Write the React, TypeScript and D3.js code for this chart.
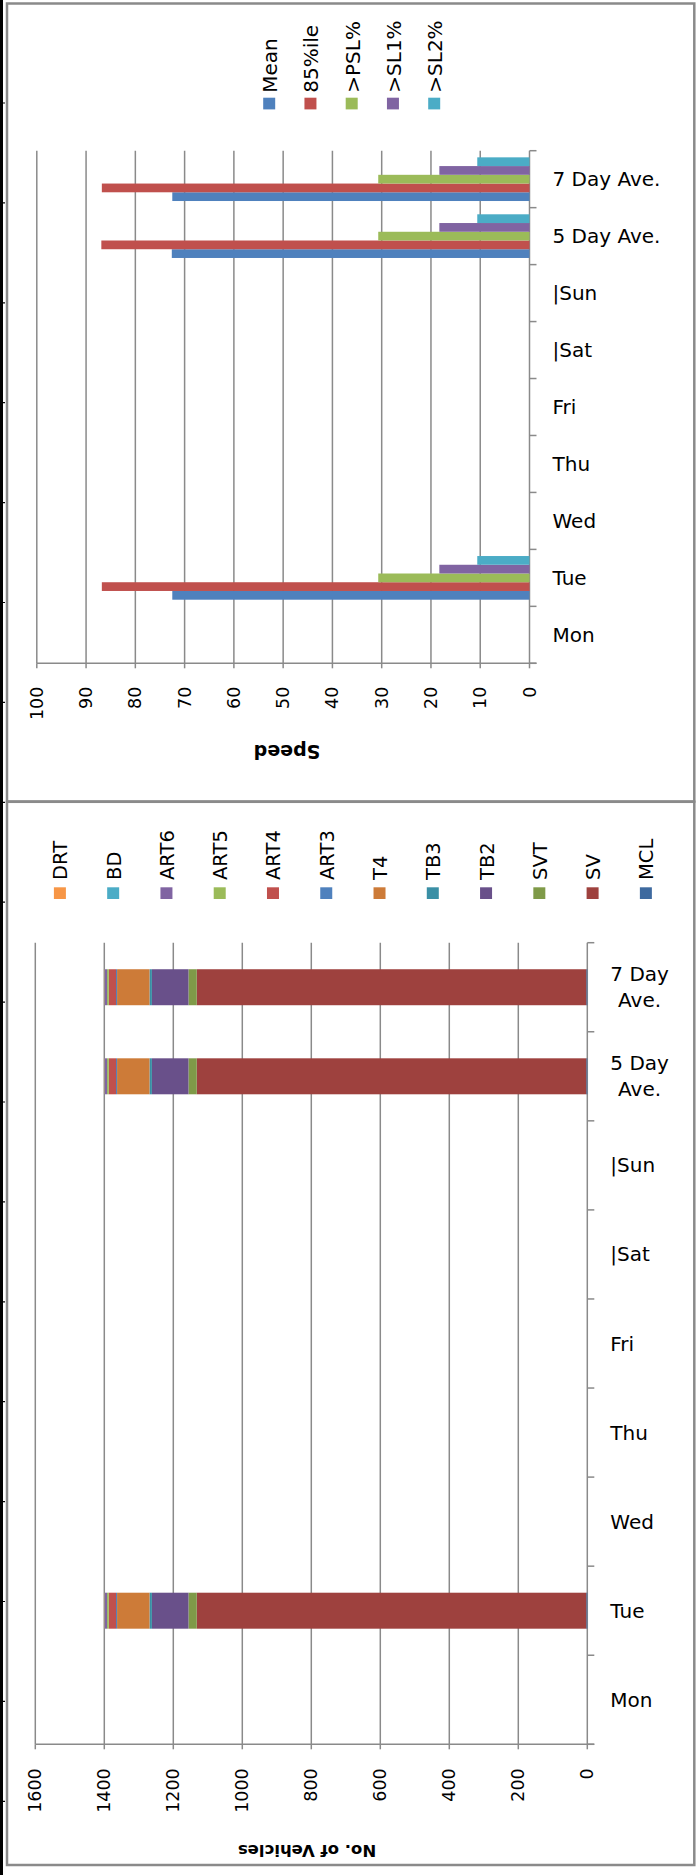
import * as d3 from 'd3'

// categories, bottom to top
const days = ['Mon', 'Tue', 'Wed', 'Thu', 'Fri', '|Sat', '|Sun', '5 Day Ave.', '7 Day Ave.']

// speed chart
const speedSeries = ['Mean', '85%ile', '>PSL%', '>SL1%', '>SL2%']
const speedColors = ['#4F81BD', '#C0504D', '#9BBB59', '#8064A2', '#4BACC6']
const meanSpeed = [null, 72.5, null, null, null, null, null, 72.6, 72.5]
const pct85Speed = [null, 86.8, null, null, null, null, null, 86.9, 86.8]
const overPsl = [null, 30.7, null, null, null, null, null, 30.7, 30.7]
const overSl1 = [null, 18.3, null, null, null, null, null, 18.3, 18.3]
const overSl2 = [null, 10.6, null, null, null, null, null, 10.6, 10.6]
const speedTicks = [0, 10, 20, 30, 40, 50, 60, 70, 80, 90, 100]

// vehicle class chart (stack order)
const vehicleClasses = ['MCL', 'SV', 'SVT', 'TB2', 'TB3', 'T4', 'ART3', 'ART4', 'ART5', 'ART6', 'BD', 'DRT']
const vehicleColors = ['#3E6A9F', '#9E413E', '#7F9A48', '#69508A', '#3A8FA5', '#CD7B38', '#4F81BD', '#C0504D', '#9BBB59', '#8064A2', '#4BACC6', '#F79646']
const mcl = [null, 3, null, null, null, null, null, 3, 3]
const sv = [null, 1129, null, null, null, null, null, 1129, 1129]
const svt = [null, 24, null, null, null, null, null, 24, 24]
const tb2 = [null, 106, null, null, null, null, null, 106, 106]
const tb3 = [null, 7, null, null, null, null, null, 7, 7]
const t4 = [null, 94, null, null, null, null, null, 94, 94]
const art3 = [null, 3, null, null, null, null, null, 3, 3]
const art4 = [null, 21, null, null, null, null, null, 21, 21]
const art5 = [null, 5, null, null, null, null, null, 5, 5]
const art6 = [null, 7, null, null, null, null, null, 7, 7]
const bd = [null, 1, null, null, null, null, null, 1, 1]
const drt = [null, 1, null, null, null, null, null, 1, 1]
const vehicleTicks = [0, 200, 400, 600, 800, 1000, 1200, 1400, 1600]

const FONT = "'DejaVu Sans', sans-serif"
const GRID = '#8a8a8a'

let ctx: CanvasRenderingContext2D | null = null
function textWidth(t: string, size: number) {
  if (!ctx) ctx = document.createElement('canvas').getContext('2d')
  if (!ctx) return t.length * size * 0.6
  ctx.font = `${size}px 'DejaVu Sans'`
  return ctx.measureText(t).width
}

function wrap(t: string, size: number, maxW: number) {
  const words = t.split(' ')
  const lines: string[] = []
  let cur = ''
  words.forEach((w) => {
    const next = cur ? cur + ' ' + w : w
    if (cur && textWidth(next, size) > maxW) {
      lines.push(cur)
      cur = w
    } else cur = next
  })
  if (cur) lines.push(cur)
  return lines
}

interface AxisProps {
  x: d3.ScaleLinear<number, number>
  y: d3.ScaleBand<string>
  ticks: number[]
  top: number
  bottom: number
  tickLabelY: number
  labelMaxW: number
}

function Axes({ x, y, ticks, top, bottom, tickLabelY, labelMaxW }: AxisProps) {
  const x0 = x(0)
  const step = y.step()
  const bounds = d3.range(days.length + 1).map((i) => top + i * step)
  return (
    <g>
      {ticks.filter((t) => t !== 0).map((t) => (
        <line key={'g' + t} x1={x(t)} x2={x(t)} y1={top} y2={bottom} stroke={GRID} strokeWidth={1.5} />
      ))}
      {ticks.map((t) => (
        <line key={'t' + t} x1={x(t)} x2={x(t)} y1={bottom} y2={bottom + 5} stroke={GRID} strokeWidth={1.5} />
      ))}
      <line x1={x(ticks[ticks.length - 1])} x2={x0 + 7} y1={bottom} y2={bottom} stroke={GRID} strokeWidth={1.5} />
      <line x1={x0} x2={x0} y1={top} y2={bottom} stroke={GRID} strokeWidth={1.5} />
      {bounds.map((b, i) => (
        <line key={'b' + i} x1={x0} x2={x0 + 7} y1={b} y2={b} stroke={GRID} strokeWidth={1.5} />
      ))}
      {ticks.map((t) => (
        <text key={'l' + t} transform={`translate(${x(t)},${tickLabelY}) rotate(-90)`} textAnchor="end"
          dominantBaseline="central" fontSize={17.5} fontFamily={FONT} fill="#000">{t}</text>
      ))}
      {days.map((d) => {
        const cy = (y(d) ?? 0) + y.bandwidth() / 2
        const lines = wrap(d, 20, labelMaxW)
        const lx = x0 + 23
        if (lines.length === 1) {
          return (
            <text key={d} x={lx} y={cy} dominantBaseline="central" fontSize={20} fontFamily={FONT} fill="#000">{d}</text>
          )
        }
        const w = d3.max(lines, (l) => textWidth(l, 20)) ?? 0
        return (
          <text key={d} x={lx + w / 2} y={cy} textAnchor="middle" dominantBaseline="central" fontSize={20} fontFamily={FONT} fill="#000">
            {lines.map((l, i) => (
              <tspan key={i} x={lx + w / 2} y={cy + (i - (lines.length - 1) / 2) * 26}>{l}</tspan>
            ))}
          </text>
        )
      })}
    </g>
  )
}

function Legend({ names, colors, cx0, step, swatchTop, textBottom, size }: { names: string[]; colors: string[]; cx0: number; step: number; swatchTop: number; textBottom: number; size: number }) {
  return (
    <g>
      {names.map((n, i) => {
        const cx = cx0 + i * step
        return (
          <g key={n}>
            <rect x={cx - 6} y={swatchTop} width={12} height={11.7} fill={colors[i]} />
            <text transform={`translate(${cx + 1},${textBottom}) rotate(-90)`} dominantBaseline="central"
              fontSize={size} fontFamily={FONT} fill="#000">{n}</text>
          </g>
        )
      })}
    </g>
  )
}

function SpeedChart() {
  const top = 150.7, bottom = 663.3
  const x = d3.scaleLinear().domain([0, 100]).range([529.5, 36.8])
  const y = d3.scaleBand<string>().domain(days).range([bottom, top])
  const inner = d3.scaleBand<string>().domain(speedSeries).range([y.bandwidth(), 0]).paddingOuter(0.76)
  const values = [meanSpeed, pct85Speed, overPsl, overSl1, overSl2]
  return (
    <g>
      <Axes x={x} y={y} ticks={speedTicks} top={top} bottom={bottom} tickLabelY={686.7} labelMaxW={140} />
      {speedSeries.map((s, si) => (
        <g key={s}>
          {days.map((d, di) => {
            const v = values[si][di]
            if (v == null) return null
            return (
              <rect key={d} x={x(v)} width={x(0) - x(v)} y={(y(d) ?? 0) + (inner(s) ?? 0)} height={inner.bandwidth()} fill={speedColors[si]} />
            )
          })}
        </g>
      ))}
      <Legend names={speedSeries} colors={speedColors} cx0={269.2} step={41.25} swatchTop={97.7} textBottom={92.7} size={20} />
      <text transform="translate(287,752) rotate(180)" textAnchor="middle" dominantBaseline="central"
        fontSize={19} fontWeight="bold" fontFamily={FONT} fill="#000">Speed</text>
    </g>
  )
}

function VehicleChart() {
  const top = 942.7, bottom = 1744.3
  const x = d3.scaleLinear().domain([0, 1600]).range([587.3, 35.3])
  const y = d3.scaleBand<string>().domain(days).range([bottom, top]).paddingInner(0.596).paddingOuter(0.298)
  const cols = [mcl, sv, svt, tb2, tb3, t4, art3, art4, art5, art6, bd, drt]
  const rows = days.map((d, di) => {
    const r: Record<string, any> = { day: d }
    vehicleClasses.forEach((c, ci) => { r[c] = cols[ci][di] ?? 0 })
    return r
  })
  const stacked = d3.stack<any>().keys(vehicleClasses)(rows)
  const yb = d3.scaleBand<string>().domain(days).range([bottom, top])
  return (
    <g>
      <Axes x={x} y={yb} ticks={vehicleTicks} top={top} bottom={bottom} tickLabelY={1768.3} labelMaxW={82} />
      {stacked.map((layer, li) => (
        <g key={layer.key} fill={vehicleColors[li]}>
          {layer.map((seg, i) => {
            if (seg[1] - seg[0] <= 0) return null
            return (
              <rect key={i} x={x(seg[1])} width={x(seg[0]) - x(seg[1])} y={y(seg.data.day)} height={y.bandwidth()} />
            )
          })}
        </g>
      ))}
      <Legend names={[...vehicleClasses].reverse()} colors={[...vehicleColors].reverse()} cx0={59.9} step={53.27} swatchTop={887.3} textBottom={880} size={19.5} />
      <text transform="translate(307,1850) rotate(180)" textAnchor="middle" dominantBaseline="central"
        fontSize={16.5} fontWeight="bold" fontFamily={FONT} fill="#000">No. of Vehicles</text>
    </g>
  )
}

export default function App() {
  const W = 696, H = 1875
  const rulerMarks = d3.range(18).map((k) => 103 + k * 99.9)
  return (
    <svg width={W} height={H} style={{ position: 'absolute', left: 0, top: 0, background: '#fff' }}>
      <rect width={W} height={H} fill="#fff" />
      <line x1={1.5} x2={1.5} y1={0} y2={H} stroke="#000" strokeWidth={3} />
      {rulerMarks.map((m) => (
        <line key={m} x1={3} x2={5} y1={m} y2={m} stroke="#000" strokeWidth={1.2} />
      ))}
      <rect x={7} y={3.5} width={687.3} height={798} fill="none" stroke={GRID} strokeWidth={2.5} />
      <rect x={7} y={801.8} width={687.3} height={1063.2} fill="none" stroke={GRID} strokeWidth={2.5} />
      <SpeedChart />
      <VehicleChart />
    </svg>
  )
}
